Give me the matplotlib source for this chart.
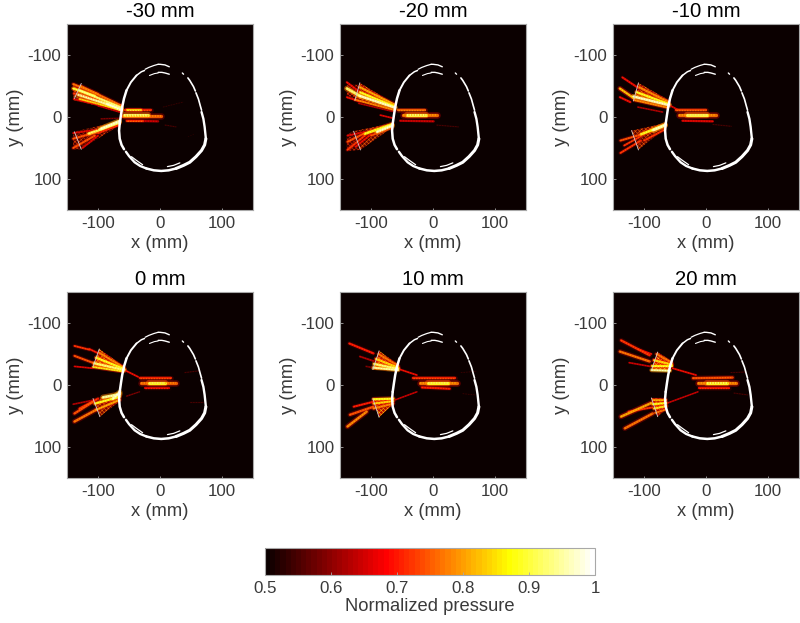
import matplotlib
matplotlib.use("Agg")
import matplotlib.pyplot as plt
from matplotlib.colors import Normalize
from matplotlib.cm import ScalarMappable

plt.rcParams['font.family'] = ['Liberation Sans', 'DejaVu Sans']
plt.rcParams['hatch.linewidth'] = 0.45
TEXT = '#3a3a3a'
EDGE = '#a8a8a8'

titles = ['-30 mm', '-20 mm', '-10 mm', '0 mm', '10 mm', '20 mm']
ticks = [-100, 0, 100]
cbar_ticks = [0.5, 0.6, 0.7, 0.8, 0.9, 1.0]
cbar_labels = ['0.5', '0.6', '0.7', '0.8', '0.9', '1']

# skull: polylines (x, y) in mm and their line widths
skull_top_r = [(-3, -85), (0, -85), (8, -84), (15, -81)]
skull_top_l = [(-38, -67), (-34, -70), (-30, -73), (-25, -75)]
skull_top_m = [(-24, -77), (-18, -80), (-10, -83), (-3, -85)]
skull_upper_right = [(36, -71), (38, -69)]
skull_right_a = [(45, -63), (48, -59), (54, -49), (57, -42)]
skull_right_b = [(58, -39), (62, -29), (65, -18), (67, -11)]
skull_right_c = [(67, -8), (70, 3), (72, 16), (74, 35)]
skull_lower_right = [(74, 35), (72, 45), (67, 54), (58, 64), (48, 73), (38, 78), (26, 83)]
skull_bottom = [(26, 83), (14, 86), (2, 87), (-10, 86), (-22, 83)]
skull_lower_left = [(-22, 83), (-32, 79), (-41, 73), (-50, 63), (-55, 56)]
skull_left_low = [(-58, 52), (-62, 45), (-65, 35), (-66, 22), (-65, 11)]
skull_left_mid = [(-65, 11), (-63, -3), (-61, -16), (-58, -30), (-54, -43)]
skull_left_up = [(-54, -43), (-47, -56), (-38, -67)]
skull_inner_top_l = [(-17, -67), (-9, -70), (-3, -71)]
skull_inner_top_r = [(-3, -72), (3, -72), (8, -71), (15, -69)]
skull_inner_low_l = [(-46, 64), (-38, 70), (-28, 77)]
skull_inner_low_r = [(12, 80), (22, 78), (32, 74)]
skull_parts = [(skull_top_r, 1.0), (skull_top_l, 1.1), (skull_top_m, 0.9), (skull_upper_right, 1.0),
               (skull_right_a, 1.2), (skull_right_b, 1.2), (skull_right_c, 1.7),
               (skull_lower_right, 2.2), (skull_bottom, 1.8), (skull_lower_left, 1.7),
               (skull_left_low, 1.8), (skull_left_mid, 1.8), (skull_left_up, 1.4),
               (skull_inner_top_l, 0.8), (skull_inner_top_r, 1.0), (skull_inner_low_l, 0.9),
               (skull_inner_low_r, 0.9)]

# transducer arcs per panel: top (x0, y0, x1, y1), bottom (x0, y0, x1, y1)
arcs_m30 = [(-127, -54, -138, -30), (-138, 24, -127, 52)]
arcs_m20 = [(-118, -55, -126, -27), (-128, 23, -117, 53)]
arcs_m10 = [(-109, -55, -117, -26), (-120, 22, -109, 53)]
arcs_0 = [(-98, -58, -108, -30), (-108, 22, -97, 51)]
arcs_10 = [(-87, -55, -97, -25), (-97, 22, -87, 52)]
arcs_20 = [(-78, -53, -88, -24), (-88, 21, -78, 51)]

# filled beam regions: corner points, normalized pressure
wedges_m30 = [([(-140, -55), (-62, -20), (-62, -9), (-140, -27)], .70),
              ([(-140, 24), (-66, 7), (-66, 14), (-128, 52), (-140, 52)], .64)]
wedges_m20 = [([(-118, -55), (-62, -21), (-61, -11), (-126, -27)], .72),
              ([(-139, -52), (-118, -52), (-126, -27), (-139, -30)], .62),
              ([(-128, 23), (-66, 10), (-66, 17), (-117, 53)], .66),
              ([(-139, 28), (-128, 23), (-117, 53), (-139, 55)], .62)]
wedges_m10 = [([(-109, -55), (-60, -27), (-59, -16), (-117, -26)], .72),
              ([(-120, 22), (-66, 10), (-66, 18), (-109, 53)], .66)]
wedges_0 = [([(-98, -58), (-58, -30), (-57, -20), (-108, -30)], .76),
            ([(-108, 22), (-66, 14), (-66, 27), (-97, 51)], .68)]
wedges_10 = [([(-87, -55), (-56, -33), (-56, -23), (-97, -25)], .78),
             ([(-97, 22), (-65, 21), (-65, 32), (-87, 52)], .74)]
wedges_20 = [([(-78, -53), (-55, -38), (-56, -23), (-88, -24)], .78),
             ([(-88, 21), (-64, 22), (-64, 38), (-78, 51)], .74)]

# streaks of pressure: x0, y0, x1, y1, normalized pressure, width
beams_m30 = [
    (-140, -53, -100, -37, .80, 1.3), (-140, -46, -105, -34, .93, 1.4), (-139, -38, -100, -28, .76, 1.3),
    (-139, -29, -100, -20, .70, 1.3), (-128, -50, -62, -18, .80, 1.4), (-130, -43, -62, -15, .96, 1.5),
    (-132, -36, -62, -13, .98, 1.5), (-130, -29, -62, -11, .88, 1.2), (-100, -18, -62, -7, .68, 1.0),
    (-85, -21, -62, -11, 1.0, 1.7),
    (-140, 26, -100, 20, .70, 1.2), (-140, 35, -100, 24, .78, 1.3), (-140, 50, -105, 30, .78, 1.3),
    (-125, 50, -100, 30, .70, 1.2), (-115, 27, -66, 9, .95, 1.7), (-95, 19, -66, 7, 1.0, 1.8),
    (-100, 26, -66, 13, .75, 1.2), (-95, 3, -64, 2, .62, 1.0),
    (-60, -2, 2, -2, .80, 2.0), (-58, -3, -20, -3, .95, 1.9), (-56, -12, -14, -12, .76, 1.5),
    (-54, -12, -30, -12, .90, 1.3), (-54, 6, -3, 7, .68, 1.4), (-54, 6, -28, 6, .78, 1.2),
    (5, -16, 37, -24, .56, 0.8), (8, 13, 26, 16, .58, 0.8), (45, 32, 56, 27, .54, 0.7),
]
beams_m20 = [
    (-139, -56, -118, -40, .72, 1.3), (-139, -46, -118, -34, .96, 1.7), (-139, -32, -118, -25, .72, 1.2),
    (-118, -48, -62, -20, .84, 1.4), (-118, -40, -62, -17, .92, 1.4), (-118, -34, -61, -15, 1.0, 1.6),
    (-126, -28, -62, -11, .82, 1.2), (-120, -22, -65, -9, .66, 1.0), (-85, -3, -64, 2, .70, 1.1),
    (-138, 53, -110, 30, .76, 1.3), (-138, 40, -110, 26, .78, 1.3), (-138, 30, -110, 24, .70, 1.2),
    (-125, 48, -100, 28, .72, 1.2), (-110, 27, -66, 12, .92, 1.6), (-90, 24, -66, 14, 1.0, 1.8),
    (-100, 30, -66, 17, .78, 1.2),
    (-48, -3, 6, -3, .82, 2.0), (-42, -3, -12, -3, .95, 1.9), (-56, -11, -13, -11, .80, 1.5),
    (-53, 6, 1, 7, .68, 1.4), (6, 13, 41, 16, .58, 0.8),
]
beams_m10 = [
    (-135, -64, -108, -46, .72, 1.3), (-139, -46, -116, -30, .86, 1.5), (-139, -32, -122, -24, .72, 1.3),
    (-108, -48, -60, -24, .82, 1.4), (-112, -40, -60, -21, .92, 1.4), (-117, -33, -59, -19, 1.0, 1.6),
    (-115, -27, -62, -15, .82, 1.2), (-110, -16, -70, -8, .66, 1.0), (-59, -19, -44, -11, .70, 1.1),
    (-138, 38, -100, 27, .78, 1.3), (-138, 58, -105, 38, .76, 1.3), (-132, 46, -105, 31, .76, 1.2),
    (-105, 28, -66, 13, .92, 1.6), (-85, 21, -66, 13, 1.0, 1.8), (-100, 38, -66, 20, .76, 1.2),
    (-43, -3, 16, -3, .82, 2.0), (-30, -3, 2, -3, .95, 1.9), (-48, -11, 0, -11, .78, 1.5),
    (-38, 6, 11, 7, .70, 1.4), (11, 12, 41, 15, .58, 0.8),
]
beams_0 = [
    (-138, -63, -114, -57, .76, 1.2), (-114, -58, -97, -50, .74, 1.2), (-138, -47, -106, -35, .78, 1.3),
    (-138, -30, -108, -27, .70, 1.1), (-98, -52, -58, -28, .82, 1.3), (-103, -44, -58, -26, .92, 1.4),
    (-106, -35, -57, -24, .96, 1.5), (-108, -29, -60, -22, .90, 1.2), (-57, -24, -35, -13, .72, 1.1),
    (-138, 59, -103, 40, .80, 1.6), (-138, 46, -108, 27, .78, 1.5), (-130, 38, -100, 22, .76, 1.3),
    (-140, 31, -100, 23, .66, 1.1), (-103, 40, -65, 24, .84, 1.4), (-105, 30, -65, 19, .92, 1.4),
    (-92, 20, -65, 15, .98, 1.7), (-76, 22, -65, 12, 1.0, 1.7), (-54, 18, -33, 11, .62, 0.9),
    (-30, -3, 26, -3, .80, 2.0), (-18, -3, 8, -3, .94, 1.9), (-33, -11, 18, -11, .76, 1.5),
    (-25, 5, 15, 5, .72, 1.4), (40, -20, 64, -23, .58, 0.8), (48, 27, 70, 27, .58, 0.8),
]
beams_10 = [
    (-135, -67, -96, -51, .74, 1.4), (-118, -46, -94, -38, .66, 1.2), (-108, -30, -97, -28, .62, 1.1),
    (-88, -50, -56, -31, .80, 1.3), (-92, -42, -56, -28, .88, 1.4), (-95, -34, -56, -26, .96, 1.4),
    (-97, -28, -56, -24, .98, 1.3), (-53, -25, -26, -16, .72, 1.1),
    (-138, 67, -107, 43, .82, 1.6), (-134, 48, -96, 35, .78, 1.5), (-128, 35, -96, 27, .74, 1.3),
    (-96, 38, -64, 30, .82, 1.3), (-96, 30, -64, 26, .88, 1.3), (-96, 23, -64, 22, .92, 1.4),
    (-61, 24, -26, 11, .68, 1.0),
    (-21, -4, 38, -4, .82, 2.0), (-8, -4, 24, -4, .94, 1.9), (-32, -12, 36, -12, .76, 1.5),
    (-18, 4, 27, 6, .74, 1.4), (45, -20, 70, -22, .56, 0.8), (48, 14, 68, 16, .56, 0.8),
]
beams_20 = [
    (-137, -72, -91, -48, .76, 1.5), (-139, -54, -91, -38, .80, 1.5), (-124, -36, -90, -30, .68, 1.1),
    (-110, -58, -88, -50, .72, 1.1), (-80, -50, -55, -36, .80, 1.3), (-84, -40, -55, -33, .88, 1.4),
    (-87, -30, -55, -30, .92, 1.3), (-88, -24, -58, -23, .98, 1.3), (-54, -27, -16, -16, .72, 1.1),
    (-137, 51, -88, 29, .84, 1.6), (-131, 70, -86, 46, .80, 1.6), (-125, 43, -86, 36, .76, 1.2),
    (-86, 24, -64, 24, .84, 1.3), (-86, 31, -64, 29, .92, 1.3), (-84, 38, -64, 34, .90, 1.3),
    (-82, 45, -66, 40, .80, 1.2), (-62, 29, -13, 11, .68, 1.0),
    (-13, -3, 48, -3, .82, 2.0), (2, -3, 34, -3, .94, 1.9), (-21, -11, 43, -12, .78, 1.5),
    (-11, 5, 37, 5, .74, 1.4), (40, -20, 64, -21, .58, 0.8), (45, 13, 67, 16, .58, 0.8),
]
panel_beams = [beams_m30, beams_m20, beams_m10, beams_0, beams_10, beams_20]
panel_arcs = [arcs_m30, arcs_m20, arcs_m10, arcs_0, arcs_10, arcs_20]
panel_wedges = [wedges_m30, wedges_m20, wedges_m10, wedges_0, wedges_10, wedges_20]

W, H = 800, 623
lefts = [67, 340, 613]
tops = [24, 292]
AW, AH = 186, 186

cmap = plt.get_cmap('hot', 64)
norm = Normalize(0.5, 1.0)

fig = plt.figure(figsize=(W / 100, H / 100), dpi=100, facecolor='white')


def style(ax):
    for s in ax.spines.values():
        s.set_color(EDGE)
        s.set_linewidth(0.8)
    ax.tick_params(colors=TEXT, labelsize=12.2, length=1.8, width=0.6, direction='in', color=EDGE, pad=4)


for i, title in enumerate(titles):
    ax = fig.add_axes([lefts[i % 3] / W, 1 - (tops[i // 3] + AH) / H, AW / W, AH / H])
    ax.set_facecolor(cmap(0))
    for pts, v in panel_wedges[i]:
        ax.fill([p[0] for p in pts], [p[1] for p in pts], facecolor=cmap(norm(v - 0.08)),
                edgecolor=cmap(norm(v + 0.10)), hatch='xxxxxxxx', lw=0, zorder=1.5, alpha=0.8)
    rows = sorted(panel_beams[i], key=lambda r: r[4])
    for x0, y0, x1, y1, v, lw in rows:
        ax.plot([x0, x1], [y0, y1], color=cmap(norm(max(v - 0.2, 0.5))), lw=lw * 2.4, alpha=0.5,
                solid_capstyle='round', zorder=2)
    for x0, y0, x1, y1, v, lw in rows:
        ax.plot([x0, x1], [y0, y1], color=cmap(norm(max(v - 0.05, 0.5))), lw=lw * 1.2, alpha=0.9,
                solid_capstyle='round', zorder=2.5)
    for x0, y0, x1, y1, v, lw in rows:
        ax.plot([x0, x1], [y0, y1], color=cmap(norm(v)), lw=lw * 0.6, alpha=0.7,
                linestyle=(0, (1.0 / (lw * 0.6), 0.9 / (lw * 0.6))), zorder=3)
    for x0, y0, x1, y1 in panel_arcs[i]:
        ax.plot([x0, x1], [y0, y1], color='#d8cccc', lw=0.6, zorder=4)
    for part, lw in skull_parts:
        ax.plot([p[0] for p in part], [p[1] for p in part], color='white', lw=lw,
                solid_capstyle='round', zorder=5)
    ax.set_xlim(-150, 150)
    ax.set_ylim(150, -150)
    ax.set_xticks(ticks)
    ax.set_yticks(ticks)
    ax.set_xticklabels([str(t) for t in ticks])
    ax.set_yticklabels([str(t) for t in ticks])
    ax.set_xlabel('x (mm)', fontsize=13.2, color=TEXT, labelpad=3)
    ax.set_ylabel('y (mm)', fontsize=13.2, color=TEXT, labelpad=3)
    ax.set_title(title, fontsize=14.6, color='black', pad=5)
    style(ax)

cax = fig.add_axes([265 / W, 1 - 575 / H, 330 / W, 27 / H])
cb = fig.colorbar(ScalarMappable(norm=norm, cmap=cmap), cax=cax, orientation='horizontal')
cb.set_ticks(cbar_ticks)
cb.set_ticklabels(cbar_labels)
cb.outline.set_edgecolor(EDGE)
cb.outline.set_linewidth(0.8)
cb.ax.tick_params(labelsize=12.2, colors=TEXT, length=2, width=0.6, direction='in', color=EDGE, pad=4)
cb.set_label('Normalized pressure', fontsize=13.2, color=TEXT, labelpad=2)

fig.savefig('out.png', dpi=100)
